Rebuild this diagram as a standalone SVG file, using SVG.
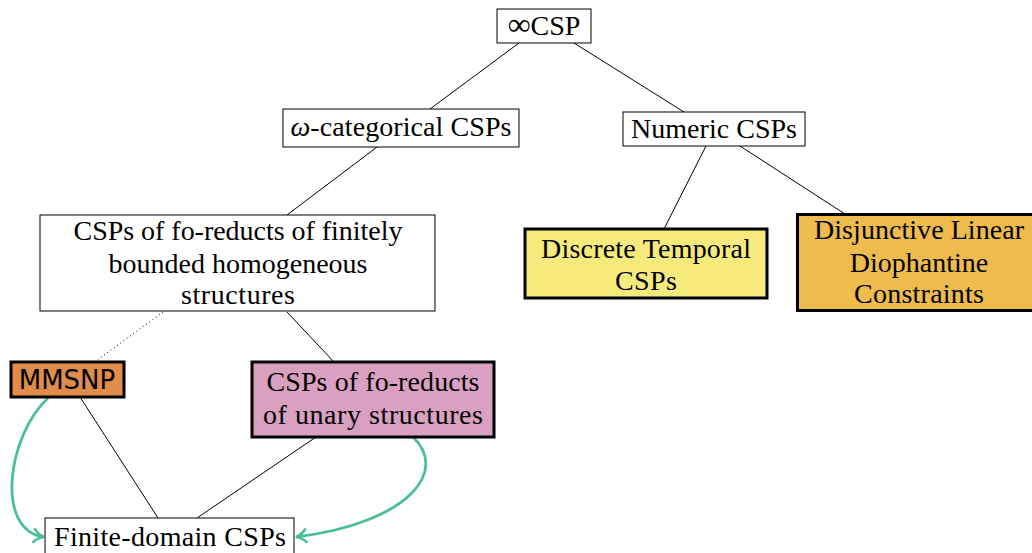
<svg xmlns="http://www.w3.org/2000/svg" width="1032" height="553" viewBox="0 0 1032 553">
<style>
.t{font-family:"Liberation Serif","DejaVu Serif",serif;font-size:28px;fill:#000;text-anchor:middle}
.s{font-family:"DejaVu Sans",sans-serif;font-size:26px;fill:#000;text-anchor:middle}
.thin{fill:#fff;stroke:#000;stroke-width:1}
.thick{stroke:#000;stroke-width:3}
.e{stroke:#000;stroke-width:1;fill:none}
.g{stroke:#4bbf9a;stroke-width:2.8;fill:none;marker-end:url(#ah)}
</style>
<defs>
<marker id="ah" viewBox="0 0 16 16" refX="13" refY="8" markerWidth="16" markerHeight="16" markerUnits="userSpaceOnUse" orient="auto">
<path d="M3,1.5 Q7,6.5 13,8 Q7,9.5 3,14.5" fill="none" stroke="#4bbf9a" stroke-width="2.6" stroke-linecap="round"/>
</marker>
</defs>
<rect width="1032" height="553" fill="#fff"/>
<g id="connectors">
<line class="e" x1="519" y1="43" x2="430" y2="109"/>
<line class="e" x1="574" y1="43" x2="684" y2="112"/>
<line class="e" x1="377" y1="147" x2="287" y2="215"/>
<line class="e" x1="706" y1="146" x2="664" y2="229"/>
<line class="e" x1="740" y1="146" x2="845" y2="214"/>
<line class="e" x1="163" y1="312" x2="96" y2="361" stroke-dasharray="1,3"/>
<line class="e" x1="287" y1="312" x2="334" y2="362"/>
<line class="e" x1="80" y1="397" x2="158" y2="518"/>
<line class="e" x1="316" y1="437" x2="197" y2="518"/>
<path class="g" d="M48,398 C8,435 -6,530 44,537"/>
<path class="g" d="M413,437 C448,470 412,522 296,537"/>
</g>
<g id="n-inf">
<rect class="thin" x="497" y="9" width="94" height="34"/>
<text class="t" x="544" y="35"><tspan font-size="32">∞</tspan>CSP</text>
</g>
<g id="n-omega">
<rect class="thin" x="283" y="109" width="236" height="38"/>
<text class="t" x="401" y="136" textLength="221"><tspan font-style="italic">ω</tspan>-categorical CSPs</text>
</g>
<g id="n-numeric">
<rect class="thin" x="623" y="112" width="182" height="34"/>
<text class="t" x="714" y="138" textLength="166">Numeric CSPs</text>
</g>
<g id="n-fob">
<rect class="thin" x="40" y="215" width="395" height="96"/>
<text class="t" x="238" y="240" textLength="329">CSPs of fo-reducts of finitely</text>
<text class="t" x="238" y="273" textLength="259">bounded homogeneous</text>
<text class="t" x="238" y="304" textLength="114">structures</text>
</g>
<g id="n-dt">
<rect class="thick" fill="#f5ea7b" x="525" y="229" width="242" height="69"/>
<text class="t" x="646" y="258" textLength="210">Discrete Temporal</text>
<text class="t" x="646" y="290" textLength="62">CSPs</text>
</g>
<g id="n-dld">
<rect class="thick" fill="#eebb4d" x="797.5" y="214.5" width="240" height="96"/>
<text class="t" x="919" y="239" textLength="210">Disjunctive Linear</text>
<text class="t" x="919" y="272">Diophantine</text>
<text class="t" x="919" y="303" textLength="130">Constraints</text>
</g>
<g id="n-mmsnp">
<rect class="thick" fill="#e08c4b" x="11" y="362" width="113" height="35"/>
<text class="s" x="67" y="389">MMSNP</text>
</g>
<g id="n-unary">
<rect class="thick" fill="#d9a0c1" x="252" y="362" width="242" height="75"/>
<text class="t" x="373" y="391" textLength="213">CSPs of fo-reducts</text>
<text class="t" x="373" y="424" textLength="220">of unary structures</text>
</g>
<g id="n-finite">
<rect class="thin" x="45" y="518" width="249" height="40"/>
<text class="t" x="170" y="546" textLength="232">Finite-domain CSPs</text>
</g>
</svg>
